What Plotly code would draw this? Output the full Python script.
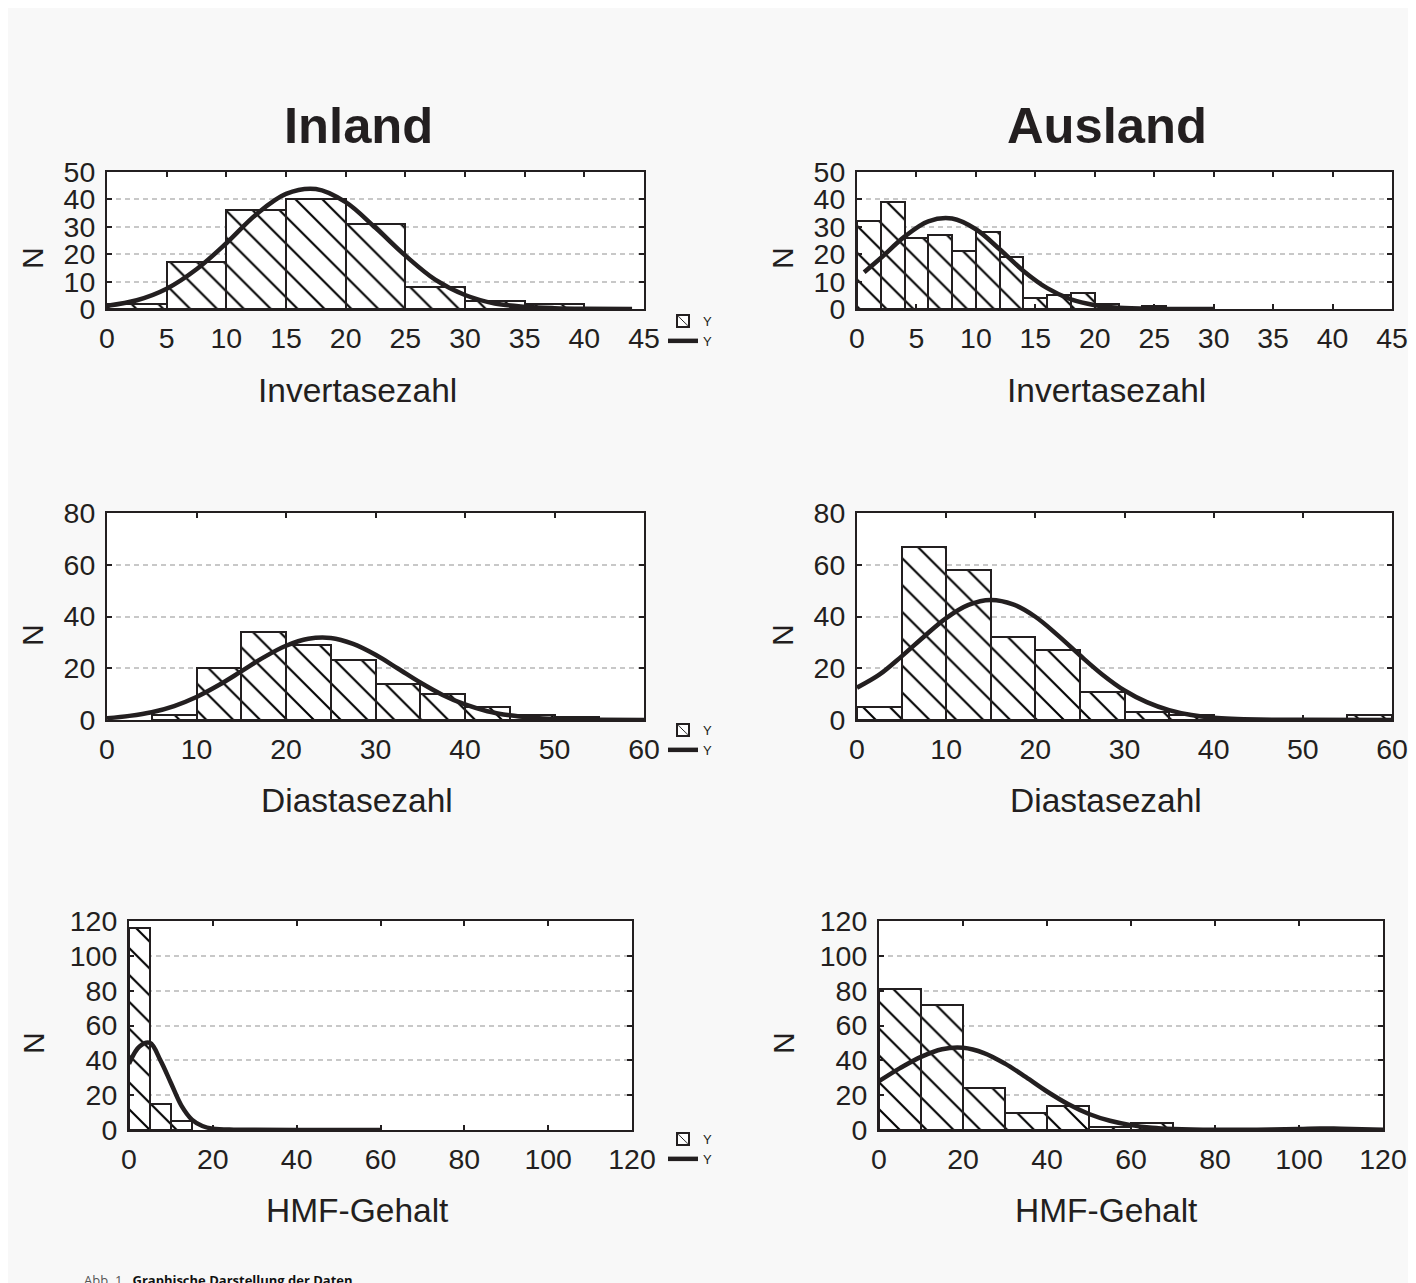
import plotly.graph_objects as go

# ---------------- data ----------------
# Invertasezahl - Inland
inv_in_edges = [0, 5, 10, 15, 20, 25, 30, 35]
inv_in_counts = [2, 17, 36, 40, 31, 8, 3, 2]
inv_in_width = 5
inv_in_curve_x = [0, 2.5, 5, 7.5, 10, 12.5, 15, 17.5, 20, 22.5, 25, 27.5, 30, 32.5, 35, 37.5, 40, 44]
inv_in_curve_y = [1.2, 3.2, 7.4, 14.5, 24, 34.5, 42, 43.8, 39, 29.6, 19.5, 10.7, 5.1, 2.0, 0.8, 0.3, 0.1, 0]

# Invertasezahl - Ausland
inv_aus_edges = [0, 2, 4, 6, 8, 10, 12, 14, 16, 18, 20, 24]
inv_aus_counts = [32, 39, 26, 27, 21, 28, 19, 4, 5, 6, 2, 1]
inv_aus_width = 2
inv_aus_curve_x = [0.6, 2, 4, 6, 8, 10, 12, 14, 16, 18, 20, 22, 25, 30]
inv_aus_curve_y = [13.4, 18.6, 26.4, 32, 33, 29.1, 21.8, 13.9, 7.6, 3.5, 1.4, 0.5, 0.1, 0]

# Diastasezahl - Inland
dia_in_edges = [5, 10, 15, 20, 25, 30, 35, 40, 45, 50]
dia_in_counts = [2, 20, 34, 29, 23, 14, 10, 5, 2, 1]
dia_in_width = 5
dia_in_curve_x = [0, 2.5, 5, 7.5, 10, 12.5, 15, 17.5, 20, 22.5, 25, 27.5, 30, 32.5, 35, 37.5,
                  40, 42.5, 45, 47.5, 50, 55, 60]
dia_in_curve_y = [0.7, 1.6, 3.0, 5.4, 8.9, 13.5, 18.8, 24.2, 28.7, 31.4, 31.7, 29.4, 25.2, 19.9,
                  14.5, 9.7, 6.0, 3.4, 1.8, 0.9, 0.4, 0.1, 0]

# Diastasezahl - Ausland
dia_aus_edges = [0, 5, 10, 15, 20, 25, 30, 35, 55]
dia_aus_counts = [5, 67, 58, 32, 27, 11, 3, 2, 2]
dia_aus_width = 5
dia_aus_curve_x = [0, 2.5, 5, 7.5, 10, 12.5, 15, 17.5, 20, 22.5, 25, 27.5, 30, 32.5, 35, 37.5,
                   40, 45, 50, 60]
dia_aus_curve_y = [12.5, 17.5, 24.6, 32.2, 39.4, 44.5, 46.4, 44.7, 39.9, 32.8, 25.0, 17.6, 11.4,
                   6.9, 3.8, 1.9, 0.9, 0.2, 0.05, 0]

# HMF-Gehalt - Inland
hmf_in_edges = [0, 5, 10]
hmf_in_counts = [116, 15, 5]
hmf_in_width = 5
hmf_in_curve_x = [0, 2.5, 5, 7.5, 10, 12.5, 15, 17.5, 20, 25, 30, 40, 60]
hmf_in_curve_y = [38, 48, 50, 40, 27, 14, 6, 2.3, 0.8, 0.2, 0.1, 0.05, 0]

# HMF-Gehalt - Ausland
hmf_aus_edges = [0, 10, 20, 30, 40, 50, 60]
hmf_aus_counts = [81, 72, 24, 10, 14, 2, 4]
hmf_aus_width = 10
hmf_aus_curve_x = [0, 5, 10, 15, 20, 25, 30, 35, 40, 45, 50, 55, 60, 65, 70, 80, 90, 100, 105,
                   110, 120]
hmf_aus_curve_y = [28, 35.5, 42, 46.4, 47.2, 44.2, 38.1, 30.3, 22.1, 14.9, 9.2, 5.3, 2.8, 1.3,
                   0.6, 0.1, 0.2, 0.6, 0.9, 0.7, 0.2]

col_titles = ["Inland", "Ausland"]
x_titles = ["Invertasezahl", "Diastasezahl", "HMF-Gehalt"]
y_title = "N"
legend_label = "Y"
caption_prefix = "Abb. 1"
caption_text = "Graphische Darstellung der Daten"

inv_ticks = [0, 5, 10, 15, 20, 25, 30, 35, 40, 45]
inv_yticks = [0, 10, 20, 30, 40, 50]
dia_ticks = [0, 10, 20, 30, 40, 50, 60]
dia_yticks = [0, 20, 40, 60, 80]
hmf_ticks = [0, 20, 40, 60, 80, 100, 120]
hmf_yticks = [0, 20, 40, 60, 80, 100, 120]

# ---------------- figure ----------------
W, H = 1416, 1283
OFF = 8  # page body margin: the figure is drawn 8px right/down of the window corner
DARK = "#231f20"
FONT = "Liberation Sans"


def px_x(p):
    return (p - OFF) / W


def px_y(p):
    return 1 - (p - OFF) / H


panels = [
    (inv_in_edges, inv_in_counts, inv_in_width, inv_in_curve_x, inv_in_curve_y, 1, [0, 45], [0, 50],
     inv_ticks, inv_yticks, (107, 644), (172, 309), "legend"),
    (inv_aus_edges, inv_aus_counts, inv_aus_width, inv_aus_curve_x, inv_aus_curve_y, 2, [0, 45], [0, 50],
     inv_ticks, inv_yticks, (857, 1392), (172, 309), None),
    (dia_in_edges, dia_in_counts, dia_in_width, dia_in_curve_x, dia_in_curve_y, 3, [0, 60], [0, 80],
     dia_ticks, dia_yticks, (107, 644), (513, 720), "legend2"),
    (dia_aus_edges, dia_aus_counts, dia_aus_width, dia_aus_curve_x, dia_aus_curve_y, 4, [0, 60], [0, 80],
     dia_ticks, dia_yticks, (857, 1392), (513, 720), None),
    (hmf_in_edges, hmf_in_counts, hmf_in_width, hmf_in_curve_x, hmf_in_curve_y, 5, [0, 120], [0, 120],
     hmf_ticks, hmf_yticks, (129, 632), (921, 1130), "legend3"),
    (hmf_aus_edges, hmf_aus_counts, hmf_aus_width, hmf_aus_curve_x, hmf_aus_curve_y, 6, [0, 120], [0, 120],
     hmf_ticks, hmf_yticks, (879, 1383), (921, 1130), None),
]

fig = go.Figure()
layout = {}

for (edges, counts, width, cx, cy, idx, xr, yr, xt, yt, xdom, ydom, leg) in panels:
    xa = "x" if idx == 1 else f"x{idx}"
    ya = "y" if idx == 1 else f"y{idx}"
    show = leg is not None
    fig.add_trace(go.Bar(
        x=edges, y=counts, width=width, offset=0,
        xaxis=xa, yaxis=ya, opacity=1,
        marker=dict(color="white", opacity=1, line=dict(color=DARK, width=2),
                    pattern=dict(shape="\\", fgcolor="#000000", fgopacity=1, bgcolor="white",
                                 size=19, solidity=0.11)),
        name=legend_label, showlegend=show, legend=leg if show else "legend",
        hoverinfo="x+y",
    ))
    fig.add_trace(go.Scatter(
        x=cx, y=cy, mode="lines", xaxis=xa, yaxis=ya,
        line=dict(color=DARK, width=4.5, shape="spline", smoothing=1.0),
        name=legend_label, showlegend=show, legend=leg if show else "legend",
    ))
    common = dict(showline=True, linecolor=DARK, linewidth=2, mirror="ticks", ticks="inside",
                  ticklen=5, tickwidth=2, tickcolor=DARK, zeroline=False, automargin=False,
                  tickfont=dict(family=FONT, size=28.5, color=DARK), fixedrange=True)
    xkey = "xaxis" if idx == 1 else f"xaxis{idx}"
    ykey = "yaxis" if idx == 1 else f"yaxis{idx}"
    layout[xkey] = dict(common, domain=[px_x(xdom[0]), px_x(xdom[1])], range=xr, autorange=False,
                        tickmode="array", tickvals=xt, showgrid=False, anchor=ya,
                        ticklabelstandoff=3)
    layout[ykey] = dict(common, domain=[px_y(ydom[1]), px_y(ydom[0])], range=yr, autorange=False,
                        tickmode="array", tickvals=yt, showgrid=True, gridcolor="#c8c8c8",
                        gridwidth=2, griddash="5px,4px", anchor=xa, ticklabelstandoff=4)

legend_common = dict(bgcolor="rgba(0,0,0,0)", font=dict(family=FONT, size=13, color=DARK),
                     xanchor="left", yanchor="top", tracegroupgap=0, itemwidth=30,
                     traceorder="normal")
layout["legend"] = dict(legend_common, x=px_x(663), y=px_y(306))
layout["legend2"] = dict(legend_common, x=px_x(663), y=px_y(715))
layout["legend3"] = dict(legend_common, x=px_x(663), y=px_y(1124))

annotations = []
for i, t in enumerate(col_titles):
    annotations.append(dict(text=f"<b>{t}</b>", x=px_x([358, 1107][i]), y=px_y(125),
                            xref="paper", yref="paper", showarrow=False,
                            font=dict(family=FONT, size=50.7, color=DARK),
                            xanchor="center", yanchor="middle"))
for r, t in enumerate(x_titles):
    yc = [390, 800, 1210][r]
    for cxp in (357, 1106):
        annotations.append(dict(text=t, x=px_x(cxp), y=px_y(yc), xref="paper", yref="paper",
                                showarrow=False, font=dict(family=FONT, size=33.5, color=DARK),
                                xanchor="center", yanchor="middle"))
    for nx in (33, 783):
        annotations.append(dict(text=y_title, x=px_x(nx), y=px_y([258, 635, 1043][r]),
                                xref="paper", yref="paper", showarrow=False, textangle=-90,
                                font=dict(family=FONT, size=30, color=DARK),
                                xanchor="center", yanchor="middle"))
annotations.append(dict(text=f"<span style='color:#555'>{caption_prefix}</span>&nbsp;&nbsp;&nbsp;<b>{caption_text}</b>",
                        x=px_x(82), y=px_y(1269), xref="paper", yref="paper", showarrow=False,
                        font=dict(family="Open Sans", size=13, color="#111"),
                        xanchor="left", yanchor="top"))

fig.update_layout(
    width=W, height=H, margin=dict(l=0, r=0, t=0, b=0, pad=0, autoexpand=False),
    paper_bgcolor="#f8f8f8", plot_bgcolor="white",
    barmode="overlay", bargap=0, annotations=annotations,
    font=dict(family=FONT, color=DARK),
    **layout,
)

fig.write_html("out.html")
